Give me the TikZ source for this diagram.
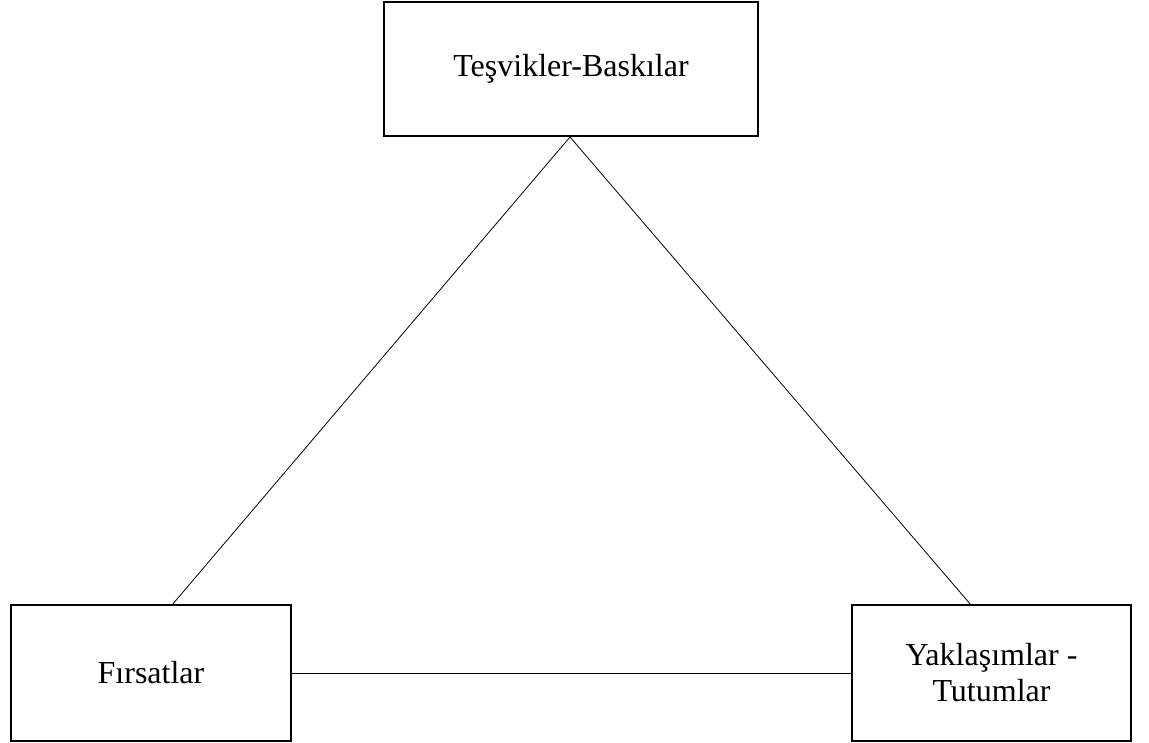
\documentclass[tikz,border=0pt]{standalone}
\usepackage{fontspec}
\setmainfont{Liberation Serif}
\begin{document}
\begin{tikzpicture}[x=1pt,y=1pt,
  box/.style={draw,line width=1.6pt,rectangle,inner sep=0pt,align=center,font=\fontsize{32}{36}\selectfont},
  link/.style={line width=0.8pt}]
\useasboundingbox (0,0) rectangle (1149,742);
\node[box,minimum width=374,minimum height=134] (top) at (571,673) {Teşvikler-Baskılar};
\node[box,minimum width=280,minimum height=136] (left) at (151,69) {Fırsatlar};
\node[box,minimum width=279,minimum height=136] (right) at (991.5,69) {Yaklaşımlar -\\Tutumlar};
\coordinate (apex) at (570,605);
\coordinate (lend) at (172,137);
\coordinate (rend) at (971,137);
\draw[link] (apex) -- (lend);
\draw[link] (apex) -- (rend);
\draw[link] (left.east) -- (right.west);
\end{tikzpicture}
\end{document}
